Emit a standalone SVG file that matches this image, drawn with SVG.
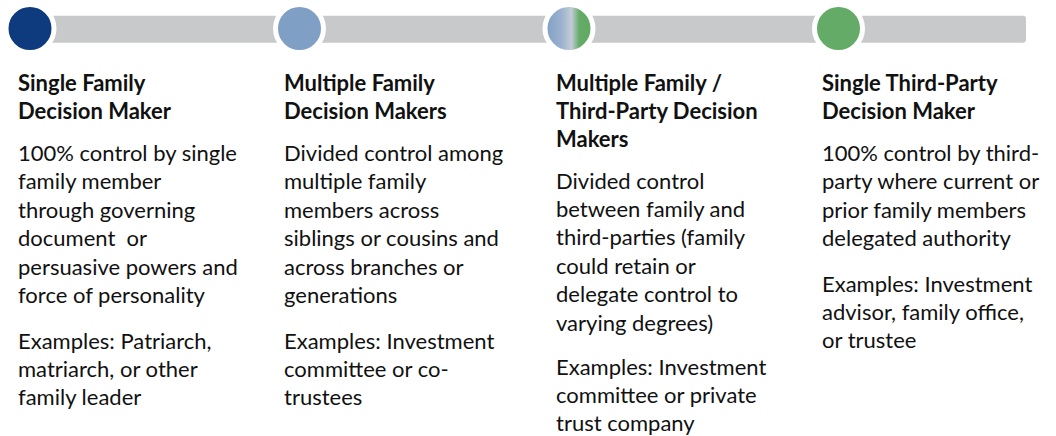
<svg xmlns="http://www.w3.org/2000/svg" width="1056" height="436" viewBox="0 0 1056 436">
  <defs>
    <linearGradient id="mix" x1="0" y1="0" x2="1" y2="0">
      <stop offset="0" stop-color="#7E9EC5"/>
      <stop offset="0.35" stop-color="#9DB2CE"/>
      <stop offset="0.55" stop-color="#C2CCD7"/>
      <stop offset="0.72" stop-color="#64AB66"/>
      <stop offset="1" stop-color="#62AA64"/>
    </linearGradient>
    <style>
      .dot { stroke: #FFFFFF; stroke-width: 5; }
      .t { font-family: Lato, "Open Sans", "Liberation Sans", sans-serif; font-size: 22px; fill: #111111; }
      .h { font-weight: bold; }
    </style>
  </defs>
  <rect width="1056" height="436" fill="#FFFFFF"/>
  <g id="connectors">
    <rect x="30" y="15.7" width="996" height="27" rx="3" fill="#C8C9CB"/>
  </g>
  <g id="node1">
    <circle class="dot" cx="30" cy="28.5" r="24" fill="#0E3A7E"/>
    <text class="t h"><tspan x="18" y="91">Single Family</tspan><tspan x="18" y="119">Decision Maker</tspan></text>
    <text class="t"><tspan x="18" y="161">100% control by single</tspan><tspan x="18" y="189.4">family member</tspan><tspan x="18" y="217.8">through governing</tspan><tspan x="18" y="246.2">document&#160; or</tspan><tspan x="18" y="274.6">persuasive powers and</tspan><tspan x="18" y="303">force of personality</tspan></text>
    <text class="t"><tspan x="18" y="348.5">Examples: Patriarch,</tspan><tspan x="18" y="376.9">matriarch, or other</tspan><tspan x="18" y="405.3">family leader</tspan></text>
  </g>
  <g id="node2">
    <circle class="dot" cx="299.5" cy="28.5" r="24" fill="#7F9FC4"/>
    <text class="t h"><tspan x="284" y="91">Multiple Family</tspan><tspan x="284" y="119">Decision Makers</tspan></text>
    <text class="t"><tspan x="284" y="161">Divided control among</tspan><tspan x="284" y="189.4">multiple family</tspan><tspan x="284" y="217.8">members across</tspan><tspan x="284" y="246.2">siblings or cousins and</tspan><tspan x="284" y="274.6">across branches or</tspan><tspan x="284" y="303">generations</tspan></text>
    <text class="t"><tspan x="284" y="348.5">Examples: Investment</tspan><tspan x="284" y="376.9">committee or co-</tspan><tspan x="284" y="405.3">trustees</tspan></text>
  </g>
  <g id="node3">
    <circle class="dot" cx="569" cy="28.5" r="24" fill="url(#mix)"/>
    <text class="t h"><tspan x="556" y="91">Multiple Family /</tspan><tspan x="556" y="119">Third-Party Decision</tspan><tspan x="556" y="147.4">Makers</tspan></text>
    <text class="t"><tspan x="556" y="188.5">Divided control</tspan><tspan x="556" y="216.9">between family and</tspan><tspan x="556" y="245.3">third-parties (family</tspan><tspan x="556" y="273.7">could retain or</tspan><tspan x="556" y="302.1">delegate control to</tspan><tspan x="556" y="330.5">varying degrees)</tspan></text>
    <text class="t"><tspan x="556" y="375">Examples: Investment</tspan><tspan x="556" y="403">committee or private</tspan><tspan x="556" y="431">trust company</tspan></text>
  </g>
  <g id="node4">
    <circle class="dot" cx="838.5" cy="28.5" r="24" fill="#63AB66"/>
    <text class="t h"><tspan x="822" y="91">Single Third-Party</tspan><tspan x="822" y="119">Decision Maker</tspan></text>
    <text class="t"><tspan x="822" y="161">100% control by third-</tspan><tspan x="822" y="189.4">party where current or</tspan><tspan x="822" y="217.8">prior family members</tspan><tspan x="822" y="246.2">delegated authority</tspan></text>
    <text class="t"><tspan x="822" y="291.5">Examples: Investment</tspan><tspan x="822" y="319.9">advisor, family office,</tspan><tspan x="822" y="348.3">or trustee</tspan></text>
  </g>
</svg>
